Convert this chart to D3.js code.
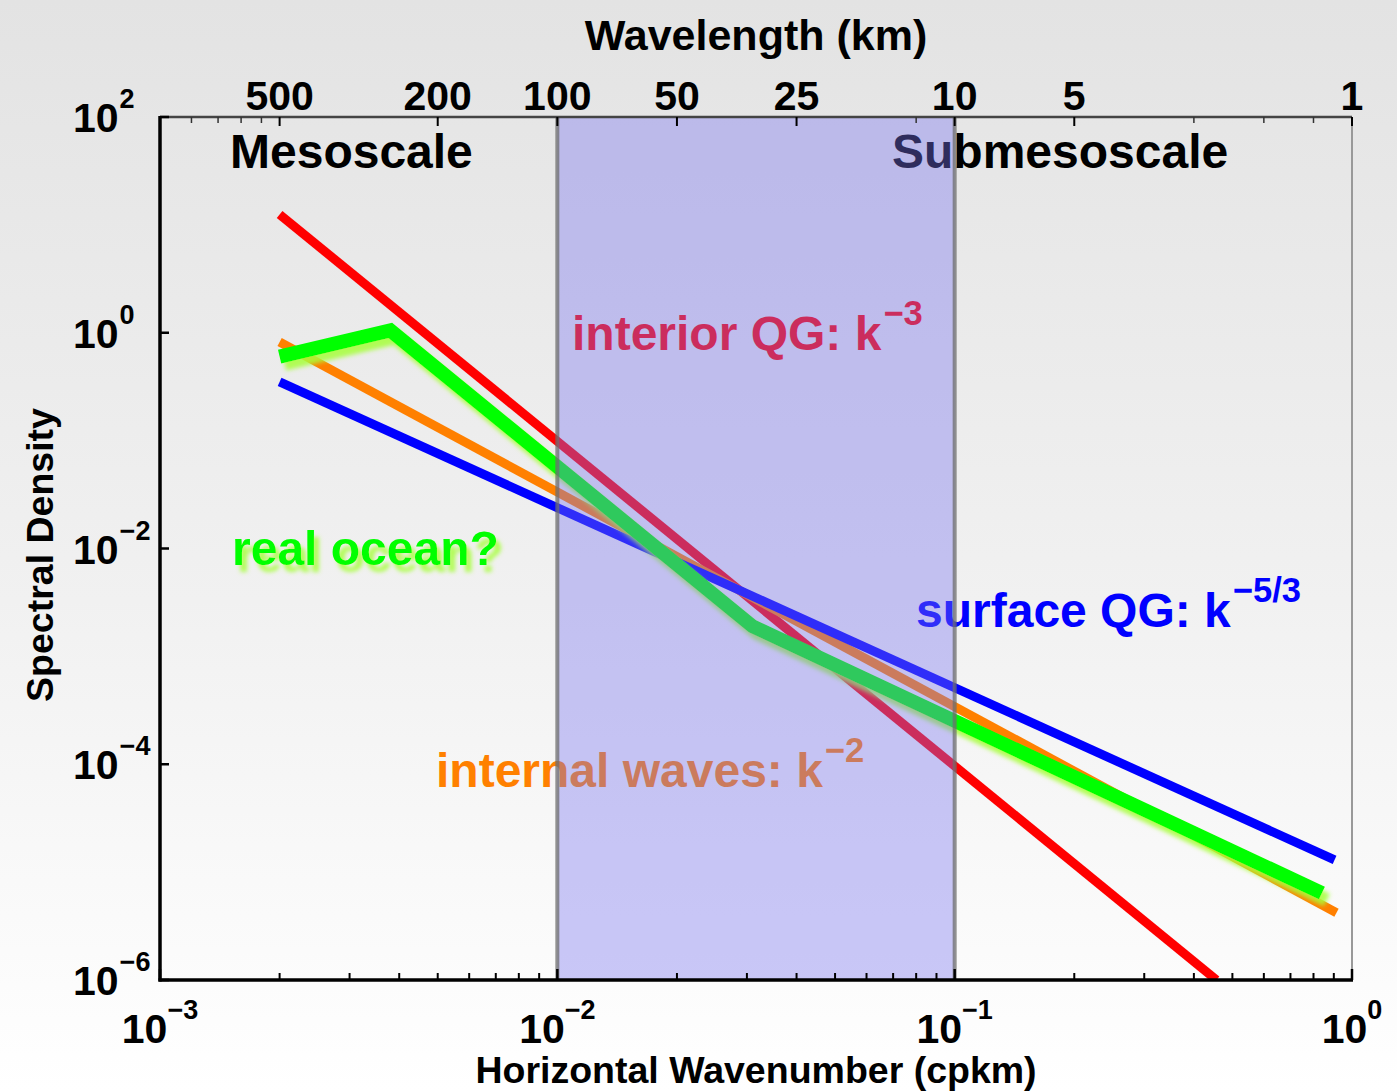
<!DOCTYPE html>
<html>
<head>
<meta charset="utf-8">
<script src="https://cdn.jsdelivr.net/npm/d3@7"></script>
<style>
  html, body { margin: 0; padding: 0; background: #ffffff; }
  svg { display: block; }
  text { font-family: "Liberation Sans", Arial, Helvetica, sans-serif; font-weight: bold; }
</style>
</head>
<body>
<svg id="chart" width="1397" height="1091"></svg>
<script>
// Spectral slopes, wavenumber k in cycles per km
const interiorK = [0.002, 0.456];
const interiorS = [12.5, 1.0e-6];          // k^-3
const surfaceK = [0.002, 0.904];
const surfaceS = [0.35, 1.3e-5];           // k^-5/3
const wavesK = [0.002, 0.914];
const wavesS = [0.82, 4.2e-6];             // k^-2
const oceanK = [0.002, 0.0038, 0.031, 0.84];
const oceanS = [0.6, 1.05, 1.9e-3, 6.4e-6]; // "real ocean?"

// Band between 100 km and 10 km wavelength
const bandK = [0.01, 0.1];

// Axis ticks
const xTickExp = [-3, -2, -1, 0];
const yTickExp = [2, 0, -2, -4, -6];
const wavelengthTicks = [500, 200, 100, 50, 25, 10, 5, 1];
const topMinorK = [0.0012, 0.0014, 0.0016, 0.0018, 0.08, 0.4, 0.6, 0.8];

const svg = d3.select("#chart");
const W = 1397, H = 1091;
const pLeft = 160, pRight = 1352, pTop = 117, pBottom = 980;

const x = d3.scaleLog().domain([1e-3, 1]).range([pLeft, pRight]);
const y = d3.scaleLog().domain([1e-6, 1e2]).range([pBottom, pTop]);

// page background
const defs = svg.append("defs");
const bg = defs.append("linearGradient").attr("id", "bg")
  .attr("x1", 0).attr("y1", 0).attr("x2", 0).attr("y2", 1);
bg.append("stop").attr("offset", "0%").attr("stop-color", "#e3e3e3");
bg.append("stop").attr("offset", "55%").attr("stop-color", "#f1f1f1");
bg.append("stop").attr("offset", "100%").attr("stop-color", "#ffffff");
svg.append("rect").attr("width", W).attr("height", H).attr("fill", "url(#bg)");

// soft yellow-green drop shadow used by the "real ocean?" curve and label
const shadow = defs.append("filter").attr("id", "greenShadow")
  .attr("x", "-10%").attr("y", "-20%").attr("width", "130%").attr("height", "150%");
shadow.append("feGaussianBlur").attr("in", "SourceAlpha").attr("stdDeviation", 2).attr("result", "blur");
shadow.append("feOffset").attr("in", "blur").attr("dx", 5).attr("dy", 7).attr("result", "off");
shadow.append("feFlood").attr("flood-color", "#a6ff3a").attr("flood-opacity", 0.85).attr("result", "col");
shadow.append("feComposite").attr("in", "col").attr("in2", "off").attr("operator", "in").attr("result", "sh");
const merge = shadow.append("feMerge");
merge.append("feMergeNode").attr("in", "sh");
merge.append("feMergeNode").attr("in", "SourceGraphic");

const clip = defs.append("clipPath").attr("id", "plotclip");
clip.append("rect").attr("x", pLeft).attr("y", pTop)
  .attr("width", pRight - pLeft).attr("height", pBottom - pTop);

const plot = svg.append("g").attr("clip-path", "url(#plotclip)");

const line = d3.line().x(d => x(d[0])).y(d => y(d[1]));
const pts = (ks, ss) => ks.map((k, i) => [k, ss[i]]);

const annSize = 48;

// region labels
svg.append("text").attr("x", 230).attr("y", 168).attr("font-size", annSize)
  .attr("fill", "#000").text("Mesoscale");
plot.append("text").attr("x", 892).attr("y", 168).attr("font-size", annSize)
  .attr("fill", "#000").text("Submesoscale");

// spectra
plot.append("path").datum(pts(interiorK, interiorS)).attr("d", line)
  .attr("fill", "none").attr("stroke", "#ff0000").attr("stroke-width", 9);
plot.append("path").datum(pts(wavesK, wavesS)).attr("d", line)
  .attr("fill", "none").attr("stroke", "#ff8000").attr("stroke-width", 9);
plot.append("path").datum(pts(surfaceK, surfaceS)).attr("d", line)
  .attr("fill", "none").attr("stroke", "#0000ff").attr("stroke-width", 9);
plot.append("path").datum(pts(oceanK, oceanS)).attr("d", line)
  .attr("fill", "none").attr("stroke", "#00ff00").attr("stroke-width", 14)
  .attr("stroke-linejoin", "miter").attr("filter", "url(#greenShadow)");

// annotations with superscripts
function supText(g, px, py, color, base, sup, size) {
  const t = g.append("text").attr("x", px).attr("y", py)
    .attr("font-size", size).attr("fill", color);
  t.append("tspan").text(base);
  t.append("tspan").attr("dy", -size * 0.53).attr("dx", 2)
    .attr("font-size", size * 0.72).text(sup);
  return t;
}
supText(plot, 572, 350, "#ff0000", "interior QG: k", "\u22123", annSize);
supText(plot, 916, 627, "#0000ff", "surface QG: k", "\u22125/3", annSize);
supText(plot, 436, 787, "#ff8000", "internal waves: k", "\u22122", annSize);

plot.append("text").attr("x", 232).attr("y", 565).attr("font-size", annSize)
  .attr("fill", "#00ff00").attr("filter", "url(#greenShadow)").text("real ocean?");

// shaded band over the spectra
plot.append("rect")
  .attr("x", x(bandK[0])).attr("y", pTop)
  .attr("width", x(bandK[1]) - x(bandK[0])).attr("height", pBottom - pTop)
  .attr("fill", "rgb(120,115,240)").attr("fill-opacity", 0.39);
bandK.forEach(k => {
  plot.append("line").attr("x1", x(k)).attr("x2", x(k))
    .attr("y1", pTop).attr("y2", pBottom)
    .attr("stroke", "#6e6e6e").attr("stroke-opacity", 0.75).attr("stroke-width", 4);
});

// axes frame
const ax = svg.append("g");
ax.append("line").attr("x1", pLeft).attr("x2", pRight).attr("y1", pTop).attr("y2", pTop)
  .attr("stroke", "#444").attr("stroke-width", 2.5);
ax.append("line").attr("x1", pRight).attr("x2", pRight).attr("y1", pTop).attr("y2", pBottom)
  .attr("stroke", "#999").attr("stroke-width", 2);
ax.append("line").attr("x1", pLeft).attr("x2", pLeft).attr("y1", pTop - 1).attr("y2", pBottom + 1.5)
  .attr("stroke", "#000").attr("stroke-width", 3.5);
ax.append("line").attr("x1", pLeft - 1.5).attr("x2", pRight + 1).attr("y1", pBottom).attr("y2", pBottom)
  .attr("stroke", "#000").attr("stroke-width", 3.5);

// bottom ticks (log decades + minor)
const minorK = [];
for (let e = -3; e < 0; e++) for (let m = 2; m <= 9; m++) minorK.push(m * Math.pow(10, e));
minorK.forEach(k => {
  ax.append("line").attr("x1", x(k)).attr("x2", x(k)).attr("y1", pBottom).attr("y2", pBottom - 7)
    .attr("stroke", "#000").attr("stroke-width", 2);
});
const expText = e => (e < 0 ? "\u2212" + (-e) : String(e));
xTickExp.forEach(e => {
  ax.append("line").attr("x1", x(Math.pow(10, e))).attr("x2", x(Math.pow(10, e)))
    .attr("y1", pBottom).attr("y2", pBottom - 11).attr("stroke", "#000").attr("stroke-width", 2.5);
  const t = ax.append("text").attr("x", x(Math.pow(10, e))).attr("y", 1043)
    .attr("font-size", 41).attr("text-anchor", "middle").attr("fill", "#000");
  t.append("tspan").text("10");
  t.append("tspan").attr("dy", -24).attr("font-size", 27).text(expText(e));
});

// left ticks
yTickExp.forEach(e => {
  const yy = y(Math.pow(10, e));
  ax.append("line").attr("x1", pLeft).attr("x2", pLeft + 9).attr("y1", yy).attr("y2", yy)
    .attr("stroke", "#000").attr("stroke-width", 2.5);
  const t = ax.append("text").attr("x", 73).attr("y", yy + 15)
    .attr("font-size", 41).attr("text-anchor", "start").attr("fill", "#000");
  t.append("tspan").text("10");
  t.append("tspan").attr("dy", -24).attr("dx", 1).attr("font-size", 27).text(expText(e));
});

// top wavelength axis
topMinorK.forEach(k => {
  ax.append("line").attr("x1", x(k)).attr("x2", x(k)).attr("y1", pTop).attr("y2", pTop + 6)
    .attr("stroke", "#333").attr("stroke-width", 1.5);
});
wavelengthTicks.forEach(w => {
  const xx = x(1 / w);
  ax.append("line").attr("x1", xx).attr("x2", xx).attr("y1", pTop).attr("y2", pTop + 9)
    .attr("stroke", "#000").attr("stroke-width", 2);
  ax.append("text").attr("x", xx).attr("y", 110).attr("font-size", 41)
    .attr("text-anchor", "middle").attr("fill", "#000").text(w);
});

// axis titles
svg.append("text").attr("x", 756).attr("y", 50).attr("font-size", 43)
  .attr("text-anchor", "middle").attr("fill", "#000").text("Wavelength (km)");
svg.append("text").attr("x", 756).attr("y", 1083).attr("font-size", 37.5)
  .attr("text-anchor", "middle").attr("fill", "#000").text("Horizontal Wavenumber (cpkm)");
svg.append("text").attr("transform", "translate(53,555) rotate(-90)").attr("font-size", 37.5)
  .attr("text-anchor", "middle").attr("fill", "#000").text("Spectral Density");
</script>
</body>
</html>
